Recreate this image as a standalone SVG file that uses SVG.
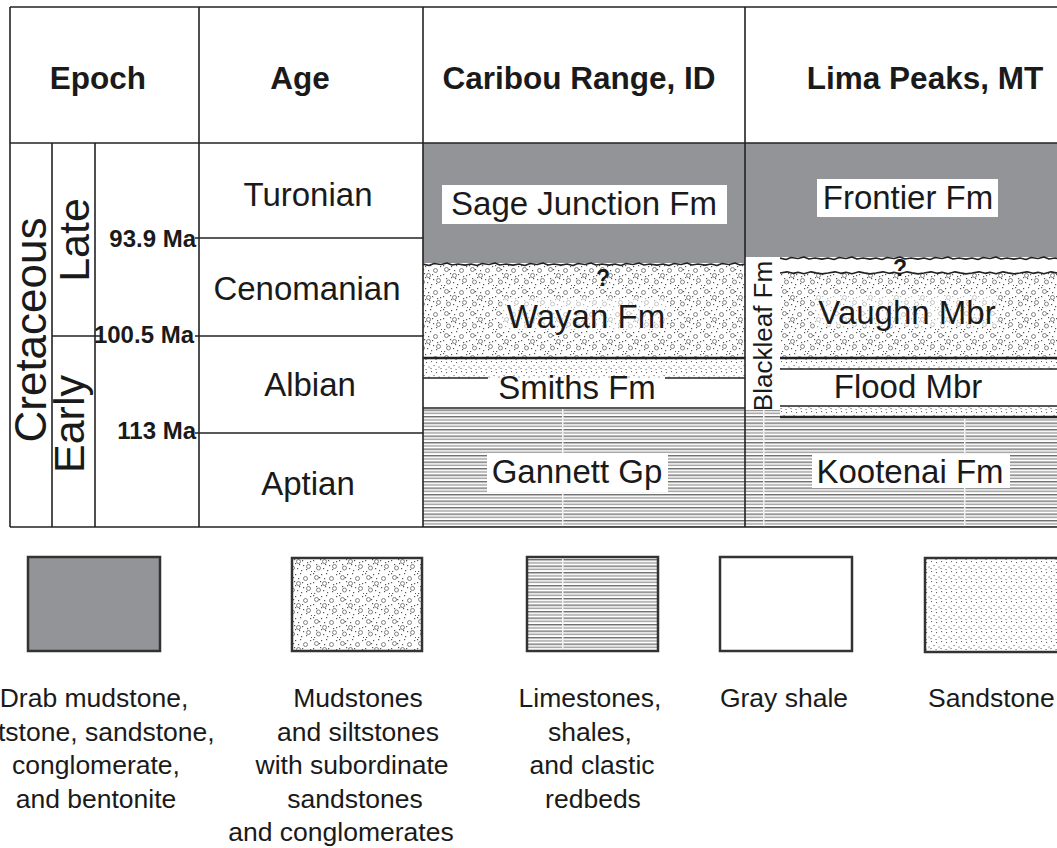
<svg xmlns="http://www.w3.org/2000/svg" width="1057" height="848" viewBox="0 0 1057 848">
<style>
text{font-family:"Liberation Sans",Arial,sans-serif;fill:#1a1a1a}
.hd{font-size:31.5px;font-weight:bold;text-anchor:middle}
.age{font-size:33px;text-anchor:middle}
.ma{font-size:24px;font-weight:bold;text-anchor:end}
.unit{font-size:33px;text-anchor:middle}
.leg{font-size:26.5px;text-anchor:middle}
.grid{stroke:#222;stroke-width:1.6;fill:none}
.bed{stroke:#222;stroke-width:1.6;fill:none}
.thick{stroke:#222;stroke-width:2.4;fill:none}
.wave{stroke:#222;stroke-width:1.7;fill:none;stroke-linejoin:round}
.lbl{fill:#fff}
.lbl2{fill:#fff;fill-opacity:0.55}
.lgbox{stroke:#333;stroke-width:2.5}
.q{font-size:23px;font-weight:bold;text-anchor:middle}
</style>
<defs>
<pattern id="cong" width="26" height="22" patternUnits="userSpaceOnUse">
<rect width="26" height="22" fill="#fff"/>
<g fill="#555">
<rect x="1" y="1" width="1.2" height="1.2"/><rect x="9" y="2" width="1.2" height="1.2"/><rect x="14" y="1" width="1.2" height="1.2"/><rect x="24" y="2" width="1.2" height="1.2"/>
<rect x="12" y="6" width="1.2" height="1.2"/><rect x="1" y="10" width="1.2" height="1.2"/><rect x="8" y="9" width="1.2" height="1.2"/><rect x="16" y="10" width="1.2" height="1.2"/>
<rect x="24" y="11" width="1.2" height="1.2"/><rect x="4" y="14" width="1.2" height="1.2"/><rect x="17" y="15" width="1.2" height="1.2"/><rect x="11" y="18" width="1.2" height="1.2"/>
<rect x="2" y="21" width="1.2" height="1.2"/><rect x="15" y="20" width="1.2" height="1.2"/><rect x="20" y="19" width="1.2" height="1.2"/><rect x="25" y="21" width="1.2" height="1.2"/>
<rect x="7" y="5" width="1.2" height="1.2"/><rect x="21" y="12" width="1.2" height="1.2"/><rect x="13" y="14" width="1.2" height="1.2"/><rect x="9" y="13" width="1.2" height="1.2"/>
</g>
<g fill="none" stroke="#666" stroke-width="0.8">
<circle cx="4.5" cy="5.5" r="2"/><circle cx="19.5" cy="6.5" r="2"/><circle cx="12.5" cy="11.5" r="2"/><circle cx="22.5" cy="16.5" r="2"/><circle cx="6.5" cy="18" r="2"/>
</g>
</pattern>
<pattern id="sand" width="10" height="10" patternUnits="userSpaceOnUse">
<rect width="10" height="10" fill="#fff"/>
<g fill="#666">
<rect x="1" y="1" width="1.1" height="1.1"/><rect x="6" y="2" width="1.1" height="1.1"/><rect x="3.5" y="5" width="1.1" height="1.1"/><rect x="8.5" y="6.5" width="1.1" height="1.1"/><rect x="0.5" y="8" width="1.1" height="1.1"/><rect x="5.5" y="9" width="1.1" height="1.1"/>
</g>
</pattern>
<pattern id="lime" width="201" height="6.5" patternUnits="userSpaceOnUse">
<rect width="201" height="6.5" fill="#fff"/>
<rect y="0" width="201" height="1.4" fill="#6e6e6e"/>
<rect y="3.2" width="201" height="1.4" fill="#9c9c9c"/>
<rect x="160" y="0" width="1.5" height="6.5" fill="#f2f2f2"/>
</pattern>
<clipPath id="cbClip"><rect x="423" y="140" width="322" height="390"/></clipPath>
<clipPath id="lpClip"><rect x="780" y="140" width="277" height="390"/></clipPath>
</defs>

<g id="caribou-column">
<rect x="423" y="143" width="322" height="120" fill="#939498"/>
<rect x="423" y="264" width="322" height="94" fill="url(#cong)"/>
<rect x="423" y="358" width="322" height="20" fill="url(#sand)"/>
<rect x="423" y="378" width="322" height="30" fill="#fff"/>
<rect x="423" y="408" width="322" height="119" fill="url(#lime)"/>
<g clip-path="url(#cbClip)">
<path class="wave" d="M423,264 l6,1.5 l5,-2 l7,1 l6,-1.5 l5,2 l6,-1 l7,1.2 l6,-1.2 l6,1.5 l5,-2 l7,1 l6,-1.5 l5,2 l6,-1 l7,1.2 l6,-1.2 l6,1.5 l5,-2 l7,1 l6,-1.5 l5,2 l6,-1 l7,1.2 l6,-1.2 l6,1.5 l5,-2 l7,1 l6,-1.5 l5,2 l6,-1 l7,1.2 l6,-1.2 l6,1.5 l5,-2 l7,1 l6,-1.5 l5,2 l6,-1 l7,1.2 l6,-1.2 l6,1.5 l5,-2 l7,1 l6,-1.5 l5,2 l6,-1 l7,1.2 l6,-1.2 l6,1.5 l5,-2 l7,1 l6,-1.5 l5,2 l6,-1 l7,1.2 l6,-1.2"/>
</g>
<line class="thick" x1="423" y1="358" x2="745" y2="358"/>
<line class="bed" x1="423" y1="378" x2="488" y2="378"/>
<line class="bed" x1="665" y1="378" x2="745" y2="378"/>
<line class="bed" x1="423" y1="408" x2="745" y2="408"/>
</g>

<g id="lima-column">
<rect x="745" y="143" width="312" height="114" fill="#939498"/>
<rect x="780" y="273" width="277" height="85" fill="url(#cong)"/>
<rect x="780" y="358" width="277" height="11" fill="url(#sand)"/>
<rect x="780" y="406" width="277" height="11" fill="url(#sand)"/>
<rect x="745" y="417" width="312" height="110" fill="url(#lime)"/>
<rect x="745" y="410" width="35" height="7" fill="url(#lime)"/>
<g clip-path="url(#lpClip)">
<path class="wave" d="M780,258 l6,1.5 l5,-2 l7,1 l6,-1.5 l5,2 l6,-1 l7,1.2 l6,-1.2 l6,1.5 l5,-2 l7,1 l6,-1.5 l5,2 l6,-1 l7,1.2 l6,-1.2 l6,1.5 l5,-2 l7,1 l6,-1.5 l5,2 l6,-1 l7,1.2 l6,-1.2 l6,1.5 l5,-2 l7,1 l6,-1.5 l5,2 l6,-1 l7,1.2 l6,-1.2 l6,1.5 l5,-2 l7,1 l6,-1.5 l5,2 l6,-1 l7,1.2 l6,-1.2 l6,1.5 l5,-2 l7,1 l6,-1.5 l5,2 l6,-1 l7,1.2 l6,-1.2"/>
<path class="wave" d="M780,273 l7,-1.2 l6,1.5 l5,-1 l6,1.5 l7,-2 l5,1 l6,1 l6,-0.8 l7,-1.2 l6,1.5 l5,-1 l6,1.5 l7,-2 l5,1 l6,1 l6,-0.8 l7,-1.2 l6,1.5 l5,-1 l6,1.5 l7,-2 l5,1 l6,1 l6,-0.8 l7,-1.2 l6,1.5 l5,-1 l6,1.5 l7,-2 l5,1 l6,1 l6,-0.8 l7,-1.2 l6,1.5 l5,-1 l6,1.5 l7,-2 l5,1 l6,1 l6,-0.8 l7,-1.2 l6,1.5 l5,-1 l6,1.5 l7,-2 l5,1 l6,1 l6,-0.8"/>
</g>
<line class="thick" x1="780" y1="358" x2="1057" y2="358"/>
<line class="bed" x1="780" y1="369" x2="1057" y2="369"/>
<line class="bed" x1="780" y1="406" x2="1057" y2="406"/>
<line class="thick" x1="780" y1="417" x2="1057" y2="417"/>
</g>

<g id="grid" class="grid">
<line x1="10" y1="7" x2="1057" y2="7"/>
<line x1="10" y1="143" x2="1057" y2="143"/>
<line x1="10" y1="527" x2="1057" y2="527"/>
<line x1="10" y1="7" x2="10" y2="527"/>
<line x1="52" y1="143" x2="52" y2="527"/>
<line x1="95" y1="143" x2="95" y2="527"/>
<line x1="199" y1="7" x2="199" y2="527"/>
<line x1="423" y1="7" x2="423" y2="527"/>
<line x1="745" y1="7" x2="745" y2="527"/>
<line x1="52" y1="336" x2="100" y2="336"/>
<line x1="195" y1="238" x2="423" y2="238"/>
<line x1="195" y1="336" x2="423" y2="336"/>
<line x1="195" y1="433" x2="423" y2="433"/>
</g>

<g id="headers">
<text class="hd" x="98" y="89">Epoch</text>
<text class="hd" x="300" y="89">Age</text>
<text class="hd" x="579" y="89">Caribou Range, ID</text>
<text class="hd" x="925" y="89">Lima Peaks, MT</text>
</g>

<g id="epochs">
<text transform="translate(46,330) rotate(-90)" style="font-size:44px;text-anchor:middle">Cretaceous</text>
<text transform="translate(89,240) rotate(-90)" style="font-size:43px;text-anchor:middle">Late</text>
<text transform="translate(84,424) rotate(-90)" style="font-size:43px;text-anchor:middle">Early</text>
</g>

<g id="ma-labels">
<text class="ma" x="196" y="247">93.9 Ma</text>
<text class="ma" x="194" y="343">100.5 Ma</text>
<text class="ma" x="196" y="439">113 Ma</text>
</g>

<g id="ages">
<text class="age" x="308" y="206">Turonian</text>
<text class="age" x="307" y="300">Cenomanian</text>
<text class="age" x="310" y="396">Albian</text>
<text class="age" x="308" y="495">Aptian</text>
</g>

<g id="sage-junction">
<rect class="lbl" x="442" y="185" width="285" height="39"/>
<text class="unit" x="584" y="215">Sage Junction Fm</text>
</g>
<g id="wayan">
<rect class="lbl2" x="502" y="298" width="165" height="32"/>
<text class="unit" x="586" y="328">Wayan Fm</text>
<text class="q" x="603" y="286">?</text>
</g>
<g id="smiths">
<text class="unit" x="577" y="399">Smiths Fm</text>
</g>
<g id="gannett">
<rect class="lbl" x="487" y="453" width="181" height="39"/>
<text class="unit" x="577" y="483">Gannett Gp</text>
</g>

<g id="frontier">
<rect class="lbl" x="817" y="179" width="181" height="38"/>
<text class="unit" x="908" y="209">Frontier Fm</text>
</g>
<g id="blackleaf">
<text transform="translate(772,336) rotate(-90)" style="font-size:26px;text-anchor:middle">Blackleaf Fm</text>
</g>
<g id="vaughn">
<rect class="lbl2" x="815" y="295" width="183" height="32"/>
<text class="unit" x="907" y="324">Vaughn Mbr</text>
<text class="q" x="900" y="276">?</text>
</g>
<g id="flood">
<text class="unit" x="908" y="398">Flood Mbr</text>
</g>
<g id="kootenai">
<rect class="lbl" x="812" y="455" width="198" height="33"/>
<text class="unit" x="910" y="483">Kootenai Fm</text>
</g>

<g id="legend-drab">
<rect class="lgbox" x="28" y="557" width="132" height="94" fill="#939498"/>
<text class="leg" x="94" y="707">Drab mudstone,</text>
<text x="-2" y="741" style="font-size:26.5px">tstone, sandstone,</text>
<text class="leg" x="96" y="774">conglomerate,</text>
<text class="leg" x="96" y="808">and bentonite</text>
</g>
<g id="legend-mudstone">
<rect class="lgbox" x="292" y="558" width="130" height="93" fill="url(#cong)"/>
<text class="leg" x="358" y="707">Mudstones</text>
<text class="leg" x="358" y="741">and siltstones</text>
<text class="leg" x="352" y="774">with subordinate</text>
<text class="leg" x="355" y="808">sandstones</text>
<text class="leg" x="341" y="841">and conglomerates</text>
</g>
<g id="legend-limestone">
<rect class="lgbox" x="527" y="557" width="131" height="94" fill="url(#lime)"/>
<text class="leg" x="590" y="707">Limestones,</text>
<text class="leg" x="590" y="741">shales,</text>
<text class="leg" x="592" y="774">and clastic</text>
<text class="leg" x="593" y="808">redbeds</text>
</g>
<g id="legend-shale">
<rect class="lgbox" x="720" y="557" width="132" height="94" fill="#fff"/>
<text class="leg" x="784" y="707">Gray shale</text>
</g>
<g id="legend-sandstone">
<rect class="lgbox" x="925" y="558" width="134" height="94" fill="url(#sand)"/>
<text x="928" y="707" style="font-size:26.5px">Sandstone</text>
</g>
</svg>
